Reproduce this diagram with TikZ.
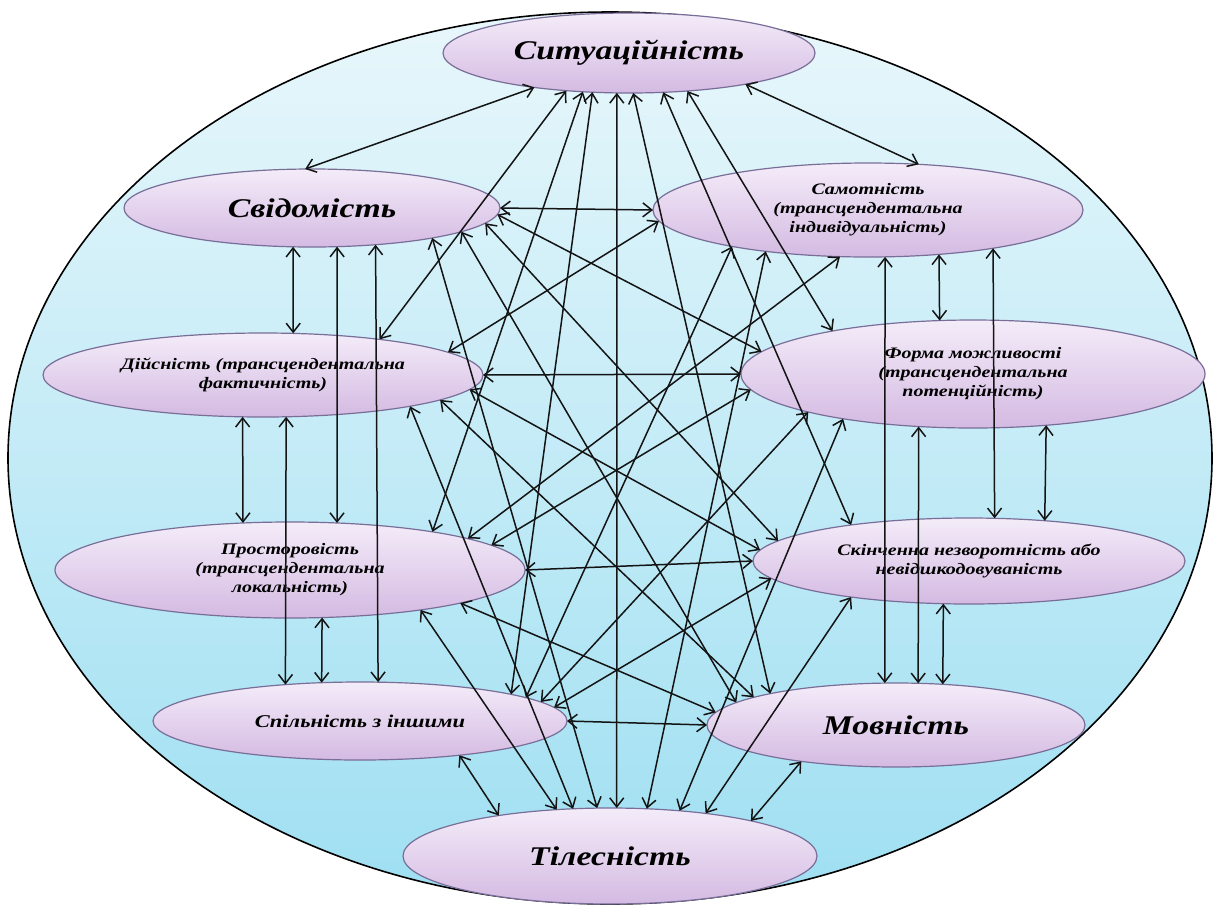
\documentclass[tikz,border=0pt]{standalone}
\usepackage{fontspec}
\setmainfont{Liberation Serif}
\newfontfamily\labelfont[FakeStretch=1.25]{Liberation Serif}
\usetikzlibrary{shapes.geometric}
\usetikzlibrary{arrows.meta}
\definecolor{skytop}{RGB}{232,247,251}
\definecolor{skybot}{RGB}{158,223,242}
\definecolor{liltop}{RGB}{244,236,249}
\definecolor{lilbot}{RGB}{212,186,226}
\definecolor{liledge}{RGB}{120,110,152}

\begin{document}
\begin{tikzpicture}[x=1pt, y=-1pt,
  frame/.style={draw=black, line width=1.6pt, top color=skytop, bottom color=skybot},
  idea/.style={ellipse, draw=liledge, line width=1.2pt, top color=liltop, bottom color=lilbot,
    inner sep=0pt, outer sep=0pt, align=center},
  bigtext/.style={font=\labelfont\bfseries\itshape\fontsize{27}{30}\selectfont},
  midtext/.style={font=\labelfont\bfseries\itshape\fontsize{18}{21}\selectfont},
  smalltext/.style={font=\labelfont\bfseries\itshape\fontsize{16}{19}\selectfont},
  link/.style={<->, >={Straight Barb[length=9pt,width=14pt]}, line width=1.5pt, draw=black!92}]
\useasboundingbox (0,0) rectangle (1219,906);
\fill[white] (0,0) rectangle (1219,906);
\draw[frame] (610,458) ellipse [x radius=602, y radius=446];

\node[idea, bigtext, minimum width=372pt, minimum height=80pt] (sit) at (629,53) {Ситуаційність};
\node[idea, bigtext, minimum width=376pt, minimum height=78pt] (svid) at (312,208) {Свідомість};
\node[idea, smalltext, minimum width=430pt, minimum height=94pt] (samo) at (868,210) {Самотність\\(трансцендентальна\\індивідуальність)};
\node[idea, smalltext, minimum width=440pt, minimum height=84pt] (diys) at (263,375) {Дійсність (трансцендентальна\\фактичність)};
\node[idea, smalltext, minimum width=464pt, minimum height=108pt] (forma) at (973,374) {Форма можливості\\(трансцендентальна\\потенційність)};
\node[idea, smalltext, minimum width=470pt, minimum height=96pt] (prost) at (290,570) {Просторовість\\(трансцендентальна\\локальність)};
\node[idea, smalltext, minimum width=432pt, minimum height=86pt] (skin) at (969,561) {Скінченна незворотність або\\невідшкодовуваність};
\node[idea, midtext, minimum width=414pt, minimum height=78pt] (spil) at (360,721) {Спільність з іншими};
\node[idea, bigtext, minimum width=378pt, minimum height=84pt] (mov) at (896,725) {Мовність};
\node[idea, bigtext, minimum width=414pt, minimum height=96pt] (til) at (610,856) {Тілесність};

\foreach \a/\b in {sit.-160/svid.100, sit.-15/samo.42, sit.-149/diys.17, sit.-33/forma.163,
  sit.-140/prost.15, sit.-49/skin.163, sit.-133/spil.10, sit.-84/mov.166, sit.-107/til.82,
  svid.0/samo.180, svid.-116/diys.54, svid.-2/forma.174, svid.-57/prost.45, svid.-5/skin.174,
  svid.-30/spil.65, svid.-9/mov.172, svid.-14/til.105,
  samo.-177/diys.7, samo.-32/forma.122, samo.-121/prost.10, samo.-17/skin.59,
  samo.-165/spil.8, samo.-70/mov.105, samo.-158/til.52,
  diys.0/forma.180, diys.-116/prost.135, diys.-4/skin.177, diys.-61/spil.154,
  diys.-8/mov.169, diys.-12/til.128,
  forma.-176/prost.7, forma.-35/skin.28, forma.-167/spil.6, forma.-136/mov.62, forma.-161/til.33,
  prost.0/skin.180, prost.-56/spil.135, prost.-11/mov.176, prost.-17/til.139,
  skin.-175/spil.4, skin.-121/mov.41, skin.-163/til.24,
  spil.0/mov.180, spil.-19/til.160, mov.-159/til.14}
  \draw[link] (\a) -- (\b);
\end{tikzpicture}
\end{document}
